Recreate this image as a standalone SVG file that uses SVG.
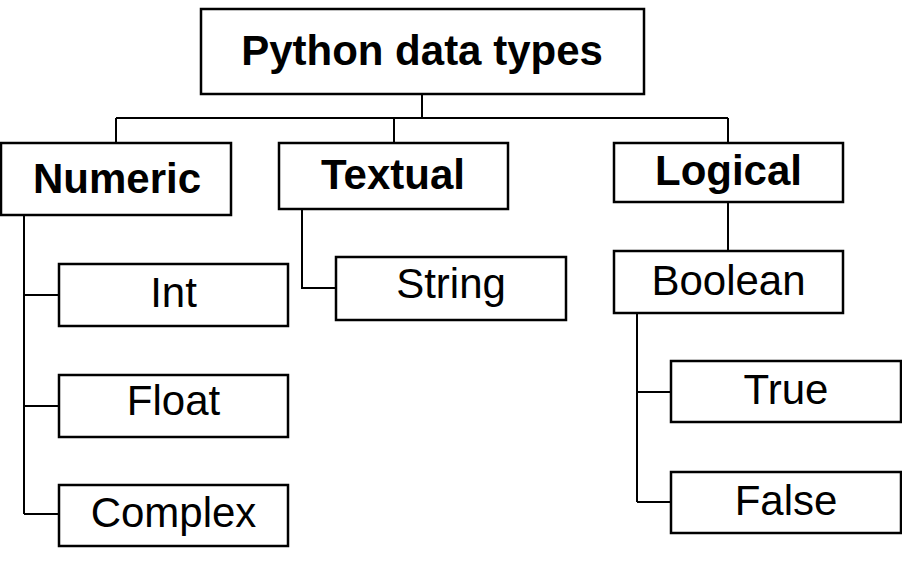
<svg xmlns="http://www.w3.org/2000/svg" width="902" height="572" viewBox="0 0 902 572">
<style>
  .box { fill: #ffffff; stroke: #000000; stroke-width: 2.5; }
  .lbl { font-family: "Liberation Sans", Arial, sans-serif; font-size: 42px; fill: #000000; text-anchor: middle; }
  .bold { font-weight: bold; }
  .conn { fill: none; stroke: #000000; stroke-width: 2; }
</style>
<rect width="902" height="572" fill="#ffffff"/>
<g id="connectors">
  <path class="conn" d="M422,94 V118 M116,118 H728 M116,118 V143 M394,118 V143 M728,118 V143"/>
  <path class="conn" d="M24,215 V514 M24,295 H59 M24,406 H59 M24,514 H59"/>
  <path class="conn" d="M302,209 V288 H336"/>
  <path class="conn" d="M728,202 V251"/>
  <path class="conn" d="M637,313 V502 M637,392 H671 M637,502 H671"/>
</g>
<g id="root">
  <rect class="box" x="201" y="9" width="443" height="85"/>
  <text class="lbl bold" x="422" y="65">Python data types</text>
</g>
<g id="numeric">
  <rect class="box" x="1" y="143" width="230" height="72"/>
  <text class="lbl bold" x="117" y="193">Numeric</text>
</g>
<g id="textual">
  <rect class="box" x="279" y="143" width="229" height="66"/>
  <text class="lbl bold" x="393" y="189">Textual</text>
</g>
<g id="logical">
  <rect class="box" x="614" y="143" width="229" height="59"/>
  <text class="lbl bold" x="728.5" y="185">Logical</text>
</g>
<g id="int">
  <rect class="box" x="59" y="264" width="229" height="62"/>
  <text class="lbl" x="173.5" y="307">Int</text>
</g>
<g id="float">
  <rect class="box" x="59" y="375" width="229" height="62"/>
  <text class="lbl" x="173.5" y="415">Float</text>
</g>
<g id="complex">
  <rect class="box" x="59" y="485" width="229" height="61"/>
  <text class="lbl" x="173.5" y="527">Complex</text>
</g>
<g id="string">
  <rect class="box" x="336" y="257" width="230" height="63"/>
  <text class="lbl" x="451" y="298">String</text>
</g>
<g id="boolean">
  <rect class="box" x="614" y="251" width="229" height="62"/>
  <text class="lbl" x="728.5" y="295">Boolean</text>
</g>
<g id="true">
  <rect class="box" x="671" y="361" width="230" height="61"/>
  <text class="lbl" x="786" y="404">True</text>
</g>
<g id="false">
  <rect class="box" x="671" y="472" width="230" height="61"/>
  <text class="lbl" x="786" y="515">False</text>
</g>
</svg>
